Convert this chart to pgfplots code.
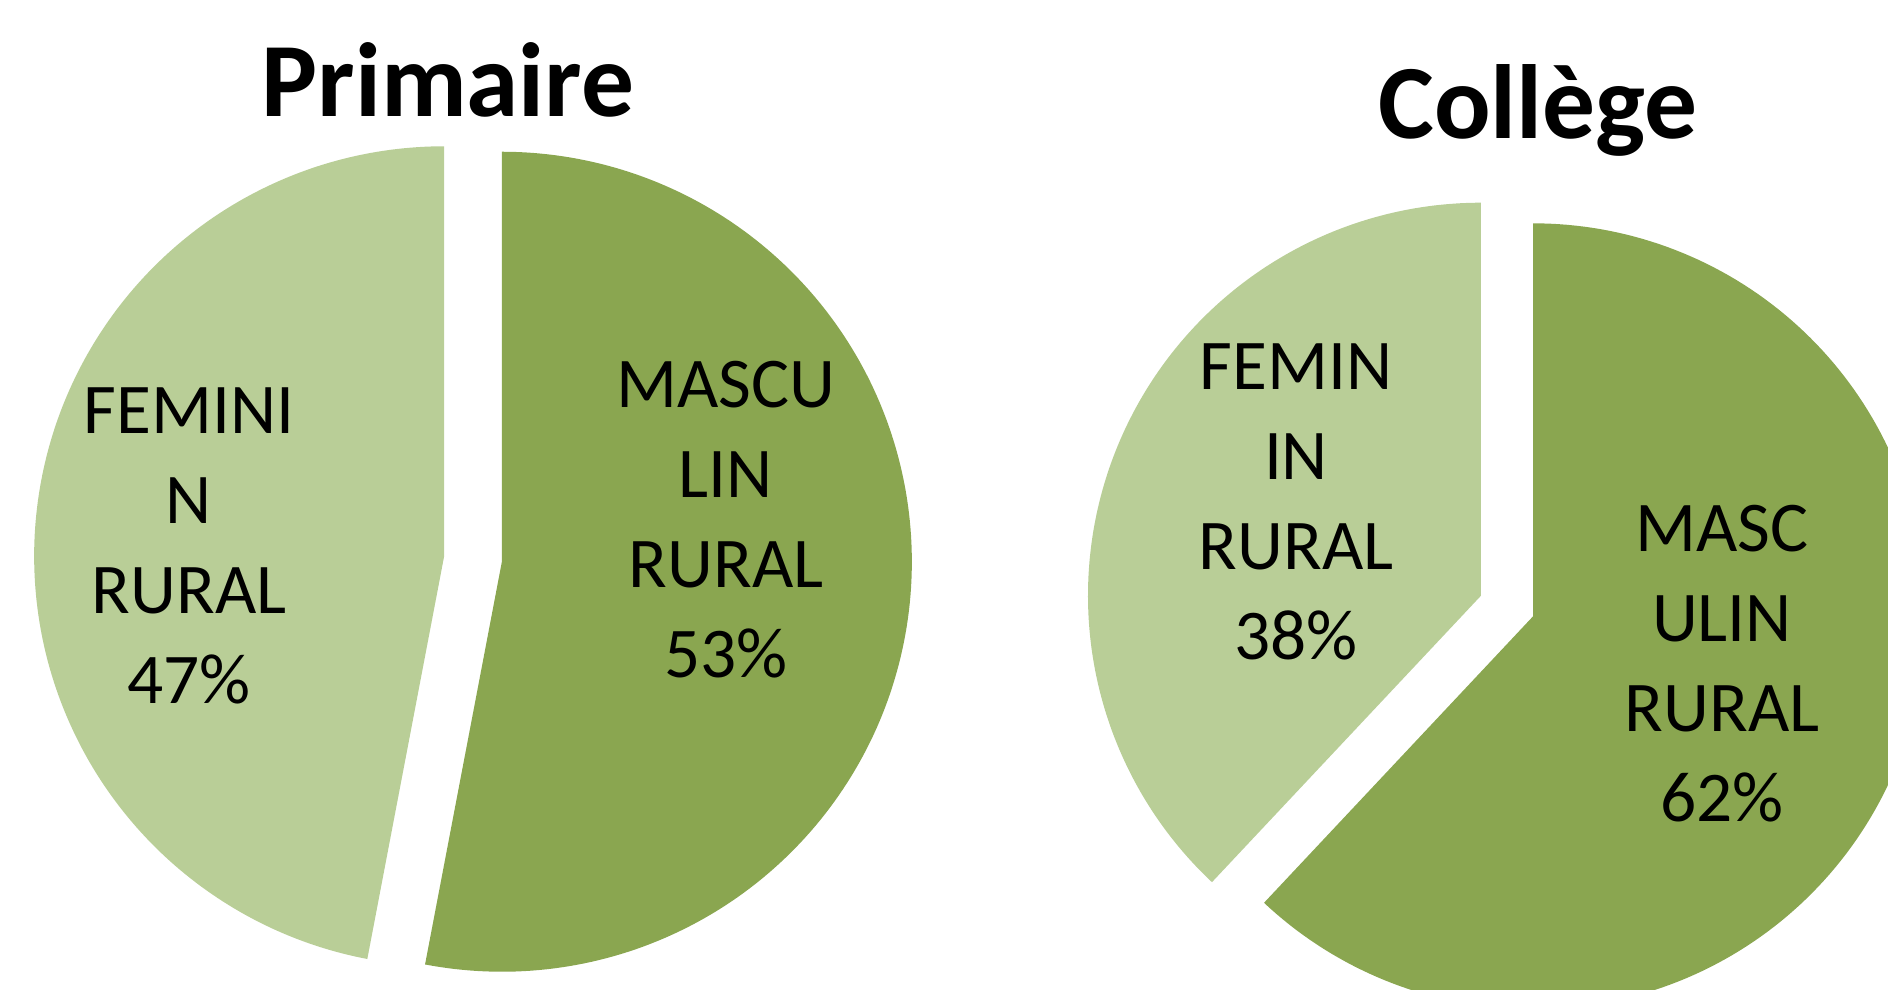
\documentclass[border=0pt]{standalone}
\usepackage{pgfplots}
\pgfplotsset{compat=1.18}
\usepackage{fontspec}
\setmainfont{Carlito}

\definecolor{femcol}{HTML}{B9CE97}
\definecolor{mascol}{HTML}{8AA650}

% shares in percent
\def\femP{47}  \def\masP{53}   % Primaire
\def\femC{38}  \def\masC{62}   % College

% exploded pie slice: cx cy r offset a1 a2 colour
\newcommand\slice[7]{%
  \pgfmathsetmacro\slmid{(#5+#6)/2}%
  \pgfmathsetmacro\slx{#1+#4*cos(\slmid)}%
  \pgfmathsetmacro\sly{#2+#4*sin(\slmid)}%
  \edef\doslice{\noexpand\addplot[fill=#7, draw=none, domain=#5:#6, samples=180, variable=\noexpand\t]
    ({\slx+#3*cos(\noexpand\t)},{\sly+#3*sin(\noexpand\t)}) -- (axis cs:\slx,\sly) -- cycle;}%
  \doslice}

\begin{document}
\begin{tikzpicture}
\pgfmathsetmacro\aP{90+3.6*\femP}
\pgfmathsetmacro\bP{\aP+3.6*\masP}
\pgfmathsetmacro\aC{90+3.6*\femC}
\pgfmathsetmacro\bC{\aC+3.6*\masC}
\begin{axis}[
  scale only axis,
  width=18.88cm, height=9.89cm,
  xmin=0, xmax=1888, ymin=0, ymax=989,
  xtick=\empty, ytick=\empty,
  axis line style={draw=none},
  clip=true,
]
\slice{473}{430}{410}{29}{90}{\aP}{femcol}
\slice{473}{430}{410}{29}{\aP}{\bP}{mascol}
\slice{1507}{383}{393}{28}{90}{\aC}{femcol}
\slice{1507}{383}{393}{28}{\aC}{\bC}{mascol}

\node[anchor=base, font=\fontsize{30}{36}\selectfont\bfseries] at (axis cs:448,872) {Primaire};
\node[anchor=base, font=\fontsize{30}{36}\selectfont\bfseries] at (axis cs:1538,850) {Collège};

\tikzset{lbl/.style={align=center, inner sep=0pt, font=\fontsize{20.3}{25.6}\selectfont}}
\node[lbl] at (axis cs:189,443) {FEMINI\\N\\RURAL\\\femP\%};
\node[lbl] at (axis cs:726,469) {MASCU\\LIN\\RURAL\\\masP\%};
\node[lbl] at (axis cs:1296,487) {FEMIN\\IN\\RURAL\\\femC\%};
\node[lbl] at (axis cs:1722,325) {MASC\\ULIN\\RURAL\\\masC\%};
\end{axis}
\end{tikzpicture}
\end{document}
